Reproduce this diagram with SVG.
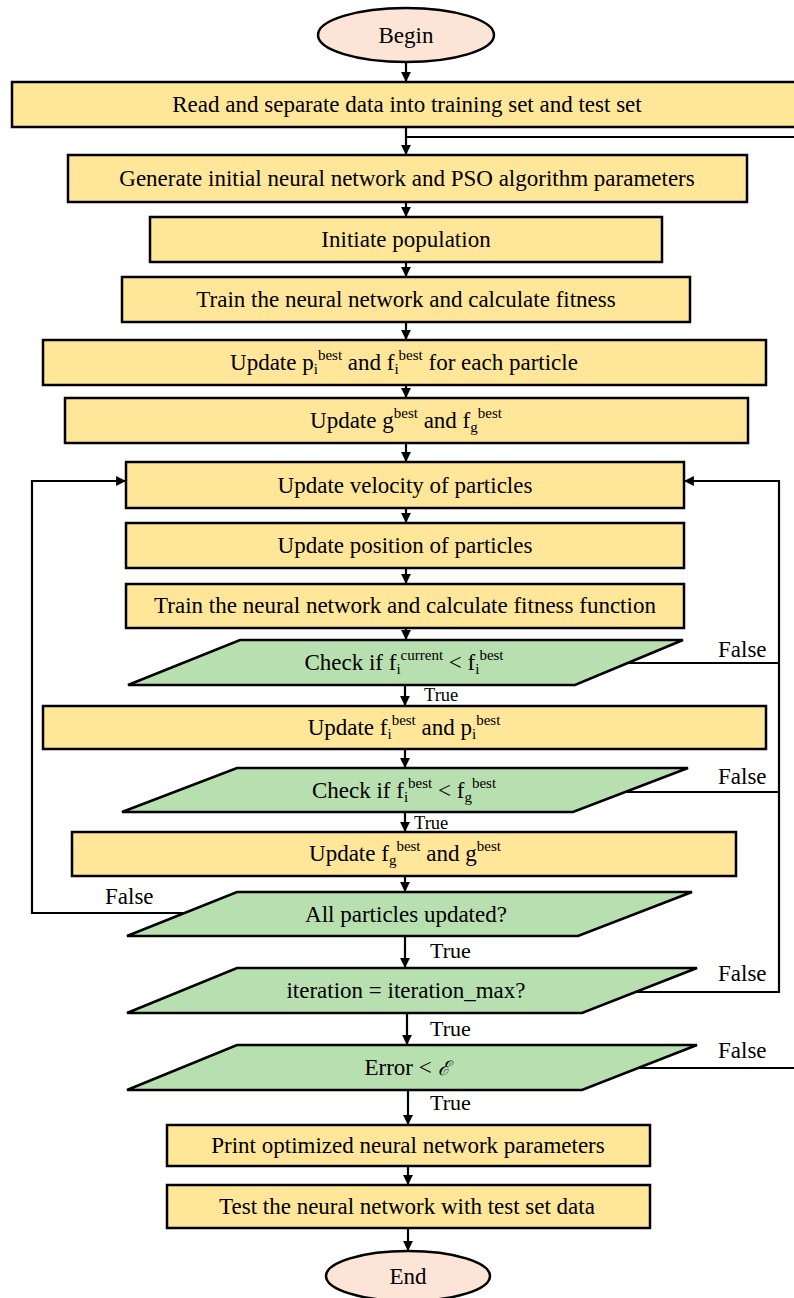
<svg xmlns="http://www.w3.org/2000/svg" width="794" height="1298" viewBox="0 0 794 1298">
  <style>
    text { font-family: "Liberation Serif", "Times New Roman", serif; font-size: 23px; fill: #000; }
    .lbl { text-anchor: middle; }
    .box { fill: #FFE699; stroke: #000; stroke-width: 2.5; }
    .dec { fill: #B8DFB0; stroke: #000; stroke-width: 2.5; stroke-linejoin: miter; }
    .term { fill: #FCE4D6; stroke: #000; stroke-width: 2.5; }
    .sub { font-size: 15px; }
    .edge { fill: none; stroke: #000; stroke-width: 2.2; }
    .flow { fill: none; stroke: #000; stroke-width: 2.2; marker-end: url(#arrow); }
    .small { font-size: 18.5px; }
    .tag { font-size: 22px; }
  </style>
  <defs>
    <marker id="arrow" viewBox="0 0 10 10" refX="10" refY="5" markerWidth="4.5" markerHeight="4.5" orient="auto" markerUnits="strokeWidth">
      <path d="M0,0 L10,5 L0,10 z" fill="#000"/>
    </marker>
  </defs>

  <rect width="794" height="1298" fill="#fff"/>

  <!-- connectors -->
  <g id="connectors">
    <line class="flow" x1="406" y1="62" x2="406" y2="82"/>
    <line class="flow" x1="406" y1="128" x2="406" y2="155"/>
    <line class="edge" x1="406" y1="137" x2="794" y2="137" stroke-width="3"/>
    <line class="flow" x1="406" y1="202" x2="406" y2="217"/>
    <line class="flow" x1="406" y1="262" x2="406" y2="277"/>
    <line class="flow" x1="406" y1="322" x2="406" y2="340"/>
    <line class="flow" x1="406" y1="385" x2="406" y2="398"/>
    <line class="flow" x1="406" y1="443" x2="406" y2="462"/>
    <line class="flow" x1="406" y1="508" x2="406" y2="523"/>
    <line class="flow" x1="406" y1="568" x2="406" y2="584"/>
    <line class="flow" x1="406" y1="628" x2="406" y2="640"/>
    <line class="flow" x1="405" y1="685" x2="405" y2="706"/>
    <line class="flow" x1="405" y1="749" x2="405" y2="768"/>
    <line class="flow" x1="405" y1="812" x2="405" y2="832"/>
    <line class="flow" x1="405" y1="876" x2="405" y2="892"/>
    <line class="flow" x1="405" y1="936" x2="405" y2="968"/>
    <line class="flow" x1="407" y1="1013" x2="407" y2="1045"/>
    <line class="flow" x1="408" y1="1090" x2="408" y2="1125"/>
    <line class="flow" x1="408" y1="1166" x2="408" y2="1185"/>
    <line class="flow" x1="408" y1="1228" x2="408" y2="1251"/>

    <!-- not all particles updated: back to velocity update -->
    <polyline class="flow" points="184,913 32,913 32,481 126,481"/>
    <!-- failed checks and unfinished iterations: back to velocity update -->
    <polyline class="edge" points="628,663 779,663"/>
    <polyline class="edge" points="625,792 779,792"/>
    <polyline class="flow" points="636,992 779,992 779,481 684,481"/>
    <!-- error too large: back to the data split -->
    <line class="edge" x1="638" y1="1068" x2="794" y2="1068"/>

    <text x="105" y="904">False</text>
    <text x="718" y="657">False</text>
    <text x="718" y="784">False</text>
    <text x="718" y="981">False</text>
    <text x="718" y="1058">False</text>
    <text class="small" x="424" y="701">True</text>
    <text class="small" x="414" y="829">True</text>
    <text class="tag" x="430" y="958">True</text>
    <text class="tag" x="430" y="1036">True</text>
    <text class="tag" x="430" y="1110">True</text>
  </g>

  <g id="begin">
    <ellipse class="term" cx="406" cy="35" rx="88" ry="27"/>
    <text class="lbl" x="406" y="43">Begin</text>
  </g>

  <g id="read-data">
    <rect class="box" x="12" y="82" width="800" height="45"/>
    <text class="lbl" x="407" y="112">Read and separate data into training set and test set</text>
  </g>

  <g id="generate-params">
    <rect class="box" x="68" y="155" width="679" height="47"/>
    <text class="lbl" x="407" y="186">Generate initial neural network and PSO algorithm parameters</text>
  </g>

  <g id="init-population">
    <rect class="box" x="150" y="217" width="512" height="45"/>
    <text class="lbl" x="406" y="247">Initiate population</text>
  </g>

  <g id="train-fitness">
    <rect class="box" x="122" y="277" width="568" height="45"/>
    <text class="lbl" x="406" y="307">Train the neural network and calculate fitness</text>
  </g>

  <g id="update-pbest">
    <rect class="box" x="43" y="340" width="723" height="45"/>
    <text class="lbl" x="404" y="370">Update p<tspan class="sub" dy="4">i</tspan><tspan class="sub" dy="-14">best</tspan><tspan dy="10"> and f</tspan><tspan class="sub" dy="4">i</tspan><tspan class="sub" dy="-14">best</tspan><tspan dy="10"> for each particle</tspan></text>
  </g>

  <g id="update-gbest">
    <rect class="box" x="65" y="398" width="683" height="45"/>
    <text class="lbl" x="406" y="428">Update g<tspan class="sub" dy="-10">best</tspan><tspan dy="10"> and f</tspan><tspan class="sub" dy="4">g</tspan><tspan class="sub" dy="-14">best</tspan></text>
  </g>

  <g id="update-velocity">
    <rect class="box" x="126" y="462" width="558" height="46"/>
    <text class="lbl" x="405" y="493">Update velocity of particles</text>
  </g>

  <g id="update-position">
    <rect class="box" x="126" y="523" width="558" height="45"/>
    <text class="lbl" x="405" y="553">Update position of particles</text>
  </g>

  <g id="train-fitness-fn">
    <rect class="box" x="126" y="584" width="558" height="44"/>
    <text class="lbl" x="405" y="613">Train the neural network and calculate fitness function</text>
  </g>

  <g id="check-current">
    <polygon class="dec" points="240,640 683,640 575,685 128,685"/>
    <text class="lbl" x="404" y="670">Check if f<tspan class="sub" dy="4">i</tspan><tspan class="sub" dy="-14">current</tspan><tspan dy="10"> &lt; f</tspan><tspan class="sub" dy="4">i</tspan><tspan class="sub" dy="-14">best</tspan></text>
  </g>

  <g id="update-fi">
    <rect class="box" x="43" y="706" width="723" height="43"/>
    <text class="lbl" x="404" y="735">Update f<tspan class="sub" dy="4">i</tspan><tspan class="sub" dy="-14">best</tspan><tspan dy="10"> and p</tspan><tspan class="sub" dy="4">i</tspan><tspan class="sub" dy="-14">best</tspan></text>
  </g>

  <g id="check-global">
    <polygon class="dec" points="237,768 688,768 573,812 122,812"/>
    <text class="lbl" x="404" y="798">Check if f<tspan class="sub" dy="4">i</tspan><tspan class="sub" dy="-14">best</tspan><tspan dy="10"> &lt; f</tspan><tspan class="sub" dy="4">g</tspan><tspan class="sub" dy="-14">best</tspan></text>
  </g>

  <g id="update-fg">
    <rect class="box" x="72" y="832" width="664" height="44"/>
    <text class="lbl" x="405" y="861">Update f<tspan class="sub" dy="4">g</tspan><tspan class="sub" dy="-14">best</tspan><tspan dy="10"> and g</tspan><tspan class="sub" dy="-10">best</tspan></text>
  </g>

  <g id="all-updated">
    <polygon class="dec" points="237,892 692,892 578,936 127,936"/>
    <text class="lbl" x="406" y="922">All particles updated?</text>
  </g>

  <g id="iteration-check">
    <polygon class="dec" points="237,968 697,968 582,1013 127,1013"/>
    <text class="lbl" x="406" y="998">iteration = iteration_max?</text>
  </g>

  <g id="error-check">
    <polygon class="dec" points="237,1045 697,1045 582,1090 127,1090"/>
    <text class="lbl" x="407" y="1075">Error &lt; <tspan font-style="italic" font-family="'DejaVu Serif', serif" font-size="20">ℰ</tspan></text>
  </g>

  <g id="print-params">
    <rect class="box" x="167" y="1125" width="483" height="41"/>
    <text class="lbl" x="408" y="1153">Print optimized neural network parameters</text>
  </g>

  <g id="test-network">
    <rect class="box" x="167" y="1185" width="483" height="43"/>
    <text class="lbl" x="407" y="1214">Test the neural network with test set data</text>
  </g>

  <g id="end">
    <ellipse class="term" cx="408" cy="1276" rx="82" ry="25"/>
    <text class="lbl" x="408" y="1284">End</text>
  </g>
</svg>
